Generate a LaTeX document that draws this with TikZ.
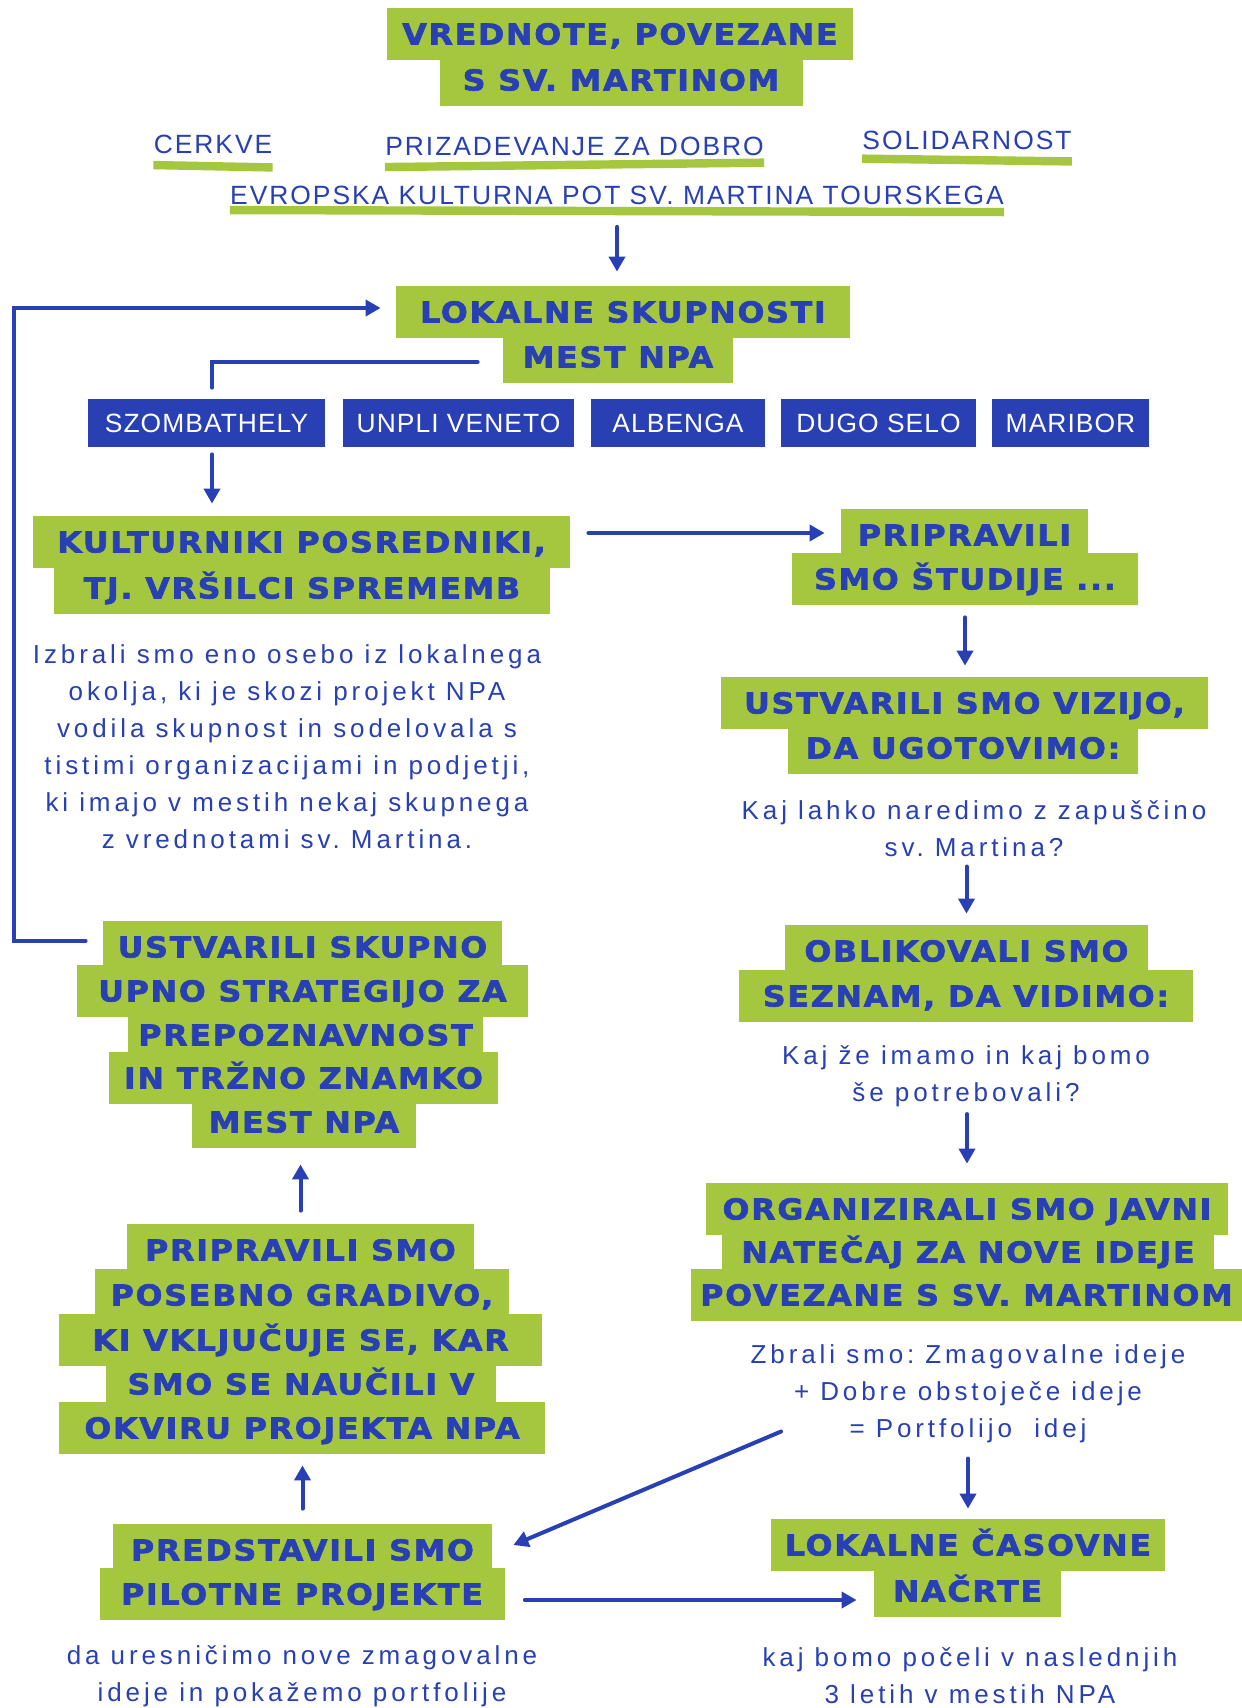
\documentclass[tikz,border=0pt]{standalone}
\usepackage{fontspec}
\usetikzlibrary{arrows.meta}
\newfontfamily\headfont{DejaVu Sans}[UprightFont=* Bold,FakeStretch=1.1,FakeBold=2.2,LetterSpace=6]
\newfontfamily\bodyfont{Liberation Sans}[LetterSpace=15]
\newfontfamily\cityfont{Liberation Sans}[LetterSpace=4]
\newfontfamily\valfont{Liberation Sans}[LetterSpace=7.5]
\definecolor{npablue}{RGB}{40,64,180}
\definecolor{npagreen}{RGB}{165,199,64}
\frenchspacing
\begin{document}
\begin{tikzpicture}[x=0.5pt,y=-0.5pt,
  hrow/.style={fill=npagreen,text=npablue,inner sep=0pt,minimum height=26pt,text height=10.5pt,text depth=0pt,font=\headfont\fontsize{14.4}{16}\selectfont},
  city/.style={fill=npablue,text=white,inner sep=0pt,minimum height=24pt,text height=9.45pt,text depth=0pt,font=\cityfont\fontsize{13.2}{15}\selectfont},
  val/.style={text=npablue,inner sep=0pt,text height=9.45pt,text depth=0pt,font=\valfont\fontsize{13.2}{15}\selectfont},
  note/.style={text=npablue,inner sep=0pt,align=center,font=\bodyfont\fontsize{13}{18.5}\selectfont},
  uline/.style={draw=npagreen,line width=4.2pt},
  link/.style={draw=npablue,line width=2pt,line cap=round},
  arr/.style={link,-{Triangle[length=7.5pt,width=8pt]}}]
\fill[white] (0,0) rectangle (1242,1708);
\useasboundingbox (0,0) rectangle (1242,1708);
\node[hrow,minimum width=233pt] (vred1) at (620,34) {VREDNOTE, POVEZANE};
\node[hrow,minimum width=181.5pt] (vred2) at (621,80) {S SV. MARTINOM};
\node[val] (cerkve) at (213,144) {CERKVE};
\node[val] (dobro) at (574.5,146) {PRIZADEVANJE ZA DOBRO};
\node[val] (solid) at (967,140) {SOLIDARNOST};
\node[val] (evropa) at (617,195) {EVROPSKA KULTURNA POT SV. MARTINA TOURSKEGA};
\draw[uline] ([yshift=-5.6pt]cerkve.south west) -- ([yshift=-6.8pt]cerkve.south east);
\draw[uline] ([yshift=-5.6pt]dobro.south west) -- ([yshift=-3.4pt]dobro.south east);
\draw[uline] ([yshift=-4.4pt]solid.south west) -- ([yshift=-5.8pt]solid.south east);
\draw[uline] ([yshift=-2.6pt]evropa.south west) -- ([yshift=-3.6pt]evropa.south east);
\node[hrow,minimum width=227pt] (lok1) at (623,312) {LOKALNE SKUPNOSTI};
\node[hrow,minimum width=115pt] (lok2) at (618,357) {MEST NPA};
\node[city,minimum width=118.5pt] (szomb) at (206.5,423) {SZOMBATHELY};
\node[city,minimum width=115.5pt] (unpli) at (458.5,423) {UNPLI VENETO};
\node[city,minimum width=87pt] (albenga) at (678,423) {ALBENGA};
\node[city,minimum width=97.5pt] (dugo) at (878.5,423) {DUGO SELO};
\node[city,minimum width=78.5pt] (maribor) at (1070.5,423) {MARIBOR};
\node[hrow,minimum width=268.5pt] (kult1) at (301.5,542) {KULTURNIKI POSREDNIKI,};
\node[hrow,minimum width=248pt] (kult2) at (302,588) {TJ. VRŠILCI SPREMEMB};
\node[note] (kultnote) at (287,747) {Izbrali smo eno osebo iz lokalnega\\okolja, ki je skozi projekt NPA\\vodila skupnost in sodelovala s\\tistimi organizacijami in podjetji,\\ki imajo v mestih nekaj skupnega\\z vrednotami sv. Martina.};
\node[hrow,minimum width=123.5pt] (stud1) at (964.5,535) {PRIPRAVILI};
\node[hrow,minimum width=173pt] (stud2) at (965,579) {SMO ŠTUDIJE ...};
\node[hrow,minimum width=243.5pt] (viz1) at (964.5,703) {USTVARILI SMO VIZIJO,};
\node[hrow,minimum width=175pt] (viz2) at (963,748) {DA UGOTOVIMO:};
\node[note] (viznote) at (974,829) {Kaj lahko naredimo z zapuščino\\sv. Martina?};
\node[hrow,minimum width=181.5pt] (obl1) at (966.5,951) {OBLIKOVALI SMO};
\node[hrow,minimum width=227pt] (obl2) at (966,996) {SEZNAM, DA VIDIMO:};
\node[note] (oblnote) at (966,1076) {Kaj že imamo in kaj bomo\\še potrebovali?};
\node[hrow,minimum width=261pt] (org1) at (967,1209) {ORGANIZIRALI SMO JAVNI};
\node[hrow,minimum width=246pt] (org2) at (968,1252) {NATEČAJ ZA NOVE IDEJE};
\node[hrow,minimum width=275.5pt] (org3) at (966.5,1295) {POVEZANE S SV. MARTINOM};
\node[note] (orgnote) at (968,1394) {Zbrali smo: Zmagovalne ideje\\+ Dobre obstoječe ideje\\= Portfolijo~ idej};
\node[hrow,minimum width=199.5pt] (strat1) at (302.5,947) {USTVARILI SKUPNO};
\node[hrow,minimum width=225.5pt] (strat2) at (302.5,991) {UPNO STRATEGIJO ZA};
\node[hrow,minimum width=177.5pt] (strat3) at (305.5,1035) {PREPOZNAVNOST};
\node[hrow,minimum width=194.5pt] (strat4) at (303.5,1078) {IN TRŽNO ZNAMKO};
\node[hrow,minimum width=112pt] (strat5) at (304,1122) {MEST NPA};
\node[hrow,minimum width=173.5pt] (grad1) at (300.5,1250) {PRIPRAVILI SMO};
\node[hrow,minimum width=207pt] (grad2) at (302,1295) {POSEBNO GRADIVO,};
\node[hrow,minimum width=241.5pt] (grad3) at (300.5,1340) {KI VKLJUČUJE SE, KAR};
\node[hrow,minimum width=195pt] (grad4) at (301,1384) {SMO SE NAUČILI V};
\node[hrow,minimum width=243pt] (grad5) at (302,1428) {OKVIRU PROJEKTA NPA};
\node[hrow,minimum width=189.5pt] (pilot1) at (302.5,1550) {PREDSTAVILI SMO};
\node[hrow,minimum width=202.5pt] (pilot2) at (302,1594) {PILOTNE PROJEKTE};
\node[note] (pilotnote) at (302,1676) {da uresničimo nove zmagovalne\\ideje in pokažemo portfolije};
\node[hrow,minimum width=197pt] (nacrt1) at (968,1545) {LOKALNE ČASOVNE};
\node[hrow,minimum width=93.5pt] (nacrt2) at (967.5,1591) {NAČRTE};
\node[note] (nacrtnote) at (970,1676) {kaj bomo počeli v naslednjih\\3 letih v mestih NPA};
\draw[arr,shorten <=11pt,shorten >=7pt] (evropa.south) -- (evropa.south |- lok1.north);
\draw[arr] ([xshift=-8.5pt,yshift=3pt]strat1.west) -- ++(-72,0) |- ([xshift=-7.5pt,yshift=2pt]lok1.west);
\draw[link] ([xshift=-12.5pt,yshift=-2.5pt]lok2.west) -| ([xshift=2.75pt,yshift=5.5pt]szomb.north);
\draw[arr,shorten <=3.5pt,shorten >=6pt] ([xshift=2.75pt]szomb.south) -- ([xshift=2.75pt]szomb.south |- kult1.north);
\draw[arr,shorten <=9pt,shorten >=8pt] ([yshift=4.5pt]kult1.east) -- ([yshift=4.5pt]kult1.east -| stud1.west);
\draw[arr,shorten <=6pt,shorten >=5.5pt] (stud2.south) -- (stud2.south |- viz1.north);
\draw[arr,shorten <=4.5pt,shorten >=5.5pt] (obl1.north |- viznote.south) -- (obl1.north);
\draw[arr,shorten <=3.5pt,shorten >=9.5pt] (org1.north |- oblnote.south) -- (org1.north);
\draw[arr,shorten <=7.5pt,shorten >=5pt] (nacrt1.north |- orgnote.south) -- (nacrt1.north);
\draw[arr] ([xshift=-93.5pt,yshift=6pt]orgnote.south) -- ([xshift=10.5pt,yshift=2.5pt]pilot1.east);
\draw[arr,shorten <=6.5pt,shorten >=8pt] (grad1.north) -- (grad1.north |- strat5.south);
\draw[arr,shorten <=7.5pt,shorten >=5.5pt] (pilot1.north) -- (pilot1.north |- grad5.south);
\draw[arr,shorten <=10pt,shorten >=8.5pt] ([yshift=-3pt]pilot2.east) -- ([yshift=-3pt]pilot2.east -| nacrt2.west);
\end{tikzpicture}
\end{document}
